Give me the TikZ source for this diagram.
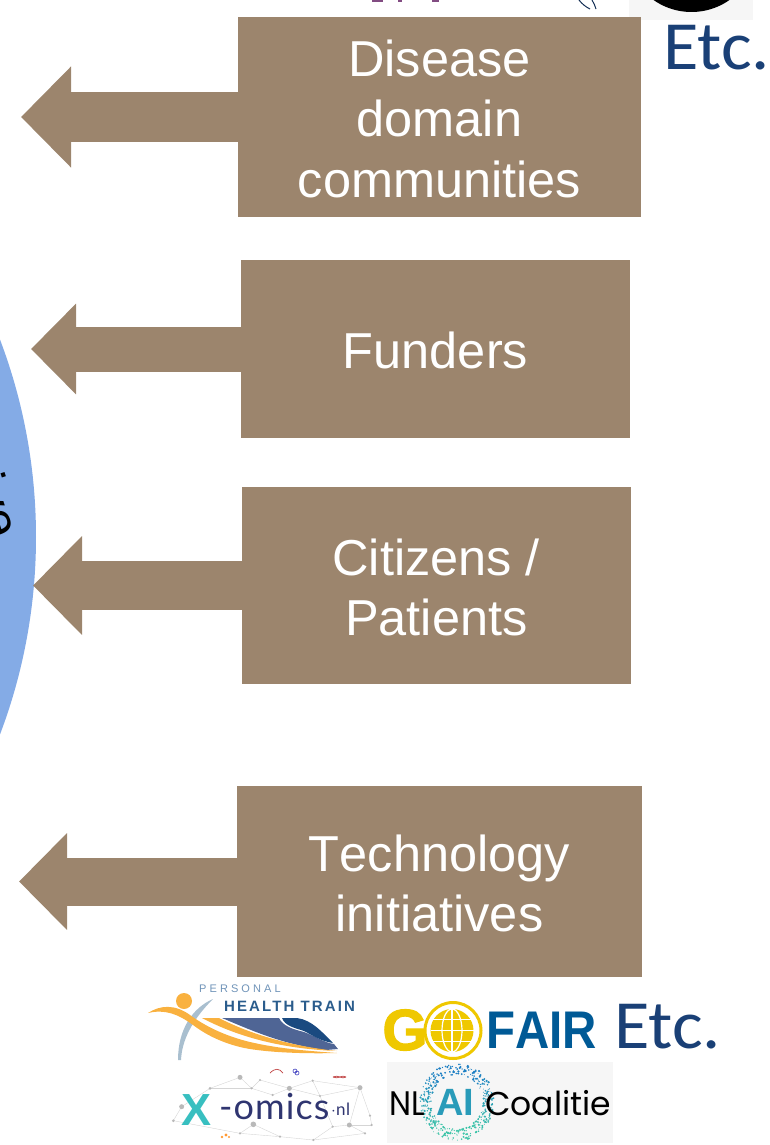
\documentclass[tikz,border=0pt]{standalone}
\usepackage{fontspec}
\setmainfont[Kerning=Off]{Liberation Sans}
\newfontfamily\etcfont{Carlito}
\newfontfamily\phtfont[LetterSpace=28]{Liberation Sans}
\newfontfamily\phtbold[LetterSpace=14]{Liberation Sans}
\newfontfamily\omicsfont[LetterSpace=3]{Lato}
\newfontfamily\aifont{Poppins}
\newfontfamily\gofont[FakeBold=2]{Liberation Sans Bold}
\usetikzlibrary{arrows.meta}
\definecolor{taupe}{HTML}{9C856D}
\definecolor{discblue}{HTML}{84ABE6}
\definecolor{etcblue}{HTML}{1A4076}
\definecolor{logobg}{HTML}{F6F6F6}
\definecolor{phtorange}{HTML}{F9B13F}
\definecolor{phtsteel}{HTML}{6F93B8}
\definecolor{phtnavy}{HTML}{2A5C8C}
\definecolor{phtbody}{HTML}{4F6595}
\definecolor{phtdark}{HTML}{1A4A80}
\definecolor{phtleg}{HTML}{A9BFCF}
\definecolor{goyellow}{HTML}{EFC800}
\definecolor{goblue}{HTML}{005A96}
\definecolor{xteal}{HTML}{38BFC0}
\definecolor{omicsnavy}{HTML}{2F3570}
\definecolor{netgray}{HTML}{B9B9B9}
\definecolor{aitop}{HTML}{1C7FC4}
\definecolor{aibot}{HTML}{3CC4A8}
\newcommand{\lowerline}{\rule{0pt}{40pt}}
\tikzset{
  stakebox/.style={fill=taupe,draw=none,inner sep=0pt,text=white,align=center,
    font=\fontsize{50.5}{60.5}\selectfont},
  stakearrow/.style={draw=taupe,line width=#1,shorten <=-1pt,-{Triangle[length=#1,width=2*#1-2pt,fill=taupe]}},
  etc/.style={text=etcblue,inner sep=0pt,xscale=1.05,font=\etcfont\fontsize{69}{69}\selectfont},
}
\begin{document}
\begin{tikzpicture}[x=1pt,y=-1pt]
\useasboundingbox (0,0) rectangle (769,1145);
% disc
\fill[discblue] (-521,537) circle [radius=557];
\node[rotate=-72,anchor=base east,inner sep=0pt,font=\fontsize{50}{60}\selectfont] (disc) at (-11,541) {tive};
% top logo fragments
\fill[logobg] (629,0) rectangle (753,20);
\begin{scope}
\clip (629,0) rectangle (753,20);
\fill[black] (691.5,-54) circle [radius=66];
\end{scope}
\draw[etcblue!70!black,line width=1pt] (579,0) .. controls (582,4) and (586,7) .. (590,9);
\draw[etcblue!70!black,line width=1pt] (592,0) .. controls (594,3) and (595,6) .. (596,9);
\fill[violet!60!black!70] (372,0) rectangle (383,2);
\fill[violet!60!black!70] (398,0) rectangle (402,2);
\fill[violet!60!black!70] (432,0) rectangle (439,2);
% boxes
\node[stakebox,minimum width=403pt,minimum height=200pt] (disease) at (439.5,117) {\lowerline Disease\\domain\\communities};
\node[stakebox,minimum width=389pt,minimum height=178pt] (funders) at (435.5,349) {\lowerline Funders};
\node[stakebox,minimum width=389.5pt,minimum height=197pt] (citizens) at (436.25,585.5) {\lowerline Citizens /\\Patients};
\node[stakebox,minimum width=405pt,minimum height=191pt] (tech) at (439.5,881.5) {\lowerline Technology\\initiatives};
% arrows
\coordinate (tipa) at (21,117);
\coordinate (tipb) at (31,349);
\coordinate (tipc) at (33,585.5);
\coordinate (tipd) at (19,881.5);
\draw[stakearrow=50pt] (disease.west) -- (tipa);
\draw[stakearrow=45pt] (funders.west) -- (tipb);
\draw[stakearrow=49pt] (citizens.west) -- (tipc);
\draw[stakearrow=48pt] (tech.west) -- (tipd);
% Etc
\node[etc,anchor=base west] (etca) at (663,70) {Etc.};
\node[etc,anchor=base west] (etcb) at (614,1048) {Etc.};
% Personal Health Train logo
\fill[phtleg] (213,999) .. controls (192,1008) and (178,1030) .. (178,1060)
  -- (181,1060) .. controls (182,1040) and (192,1020) .. (213,999) -- cycle;
\fill[phtorange] (184,1001) circle [radius=8];
\fill[phtbody] (222,1018) -- (279,1018) .. controls (283,1026) and (292,1029) .. (304,1032)
  .. controls (315,1036) and (325,1043) .. (334,1044) -- (338,1049)
  -- (326,1050) .. controls (285,1045) and (255,1032) .. (222,1018) -- cycle;
\fill[phtdark] (282,1018) -- (297,1018) .. controls (312,1020) and (322,1032) .. (333,1043)
  .. controls (320,1041) and (312,1035) .. (304,1031)
  .. controls (295,1028) and (285,1026) .. (282,1018) -- cycle;
\fill[phtorange] (202,1018) -- (219,1018) .. controls (250,1034) and (290,1046) .. (337,1051)
  .. controls (285,1049) and (240,1038) .. (202,1018) -- cycle;
\fill[phtorange] (148,1013) .. controls (160,1005) and (175,1004) .. (190,1015)
  .. controls (205,1026) and (225,1036) .. (250,1042)
  .. controls (280,1049) and (310,1051) .. (337,1053)
  .. controls (300,1054) and (260,1052) .. (240,1047)
  .. controls (220,1042) and (205,1034) .. (193,1025)
  .. controls (178,1014) and (165,1009) .. (148,1013) -- cycle;
\node[anchor=base west,inner sep=0pt,text=phtsteel,font=\phtfont\fontsize{11}{11}\selectfont] (phta) at (199,992) {PERSONAL};
\node[anchor=base west,inner sep=0pt,text=phtnavy,font=\phtbold\bfseries\fontsize{15}{15}\selectfont] (phtb) at (224,1011) {HEALTH TRAIN};
% GO FAIR logo
\draw[goyellow,line width=3pt] (453,1030.5) circle [radius=28];
\fill[goyellow] (452,1030.5) circle [radius=21.5];
\begin{scope}[white,line width=1.2pt]
\draw (452,1030.5) circle [x radius=10,y radius=21.5];
\draw (452,1009) -- (452,1052);
\draw (430.5,1030.5) -- (473.5,1030.5);
\draw (433,1019.5) -- (471,1019.5);
\draw (433,1041.5) -- (471,1041.5);
\end{scope}
\node[anchor=base,inner sep=0pt,text=goyellow,font=\gofont\fontsize{58}{58}\selectfont] (gog) at (405,1050) {G};
\node[anchor=base west,inner sep=0pt,text=goblue,xscale=0.895,font=\bfseries\fontsize{53}{53}\selectfont] (fair) at (486,1048) {FAIR};
% X-omics logo
\begin{scope}[netgray!60,line width=0.4pt]
\foreach \a/\b/\c/\d in {330/322/240/355,240/355/155/410,155/410/130/452,130/452/330/490,330/490/370/463,330/322/365/355,365/355/390/330,390/330/478/355,478/355/428/375,478/355/570/378,570/378/548/332,548/332/478/355,570/378/690/353,690/353/720/437,720/437/725/465,725/465/658/465,658/465/608/470,658/465/705/490,705/490/550/510,550/510/450/500,450/500/330/490,370/463/450/500,608/470/550/510,690/353/548/332,240/355/365/355,428/375/365/355,570/378/608/470,690/353/658/465}{
  \draw ({130+\a/3},{970+\b/3}) -- ({130+\c/3},{970+\d/3});
}
\end{scope}
\foreach \a/\b/\r in {330/322/2.5,240/355/1.5,155/410/2.5,130/452/1.5,370/463/2.8,478/355/2.5,390/330/1.2,365/355/1.2,428/375/1.2,570/378/1.2,548/332/1.2,690/353/2.5,720/437/1.2,725/465/1.2,658/465/2.5,608/470/1.2,705/490/1.2,550/510/1.2,450/500/1.2,330/490/1.2}{
  \fill[netgray] ({130+\a/3},{970+\b/3}) circle [radius=\r];
}
\draw[red!50!gray,line width=0.7pt] (270,1073) .. controls (275,1068) and (279,1068) .. (283,1073);
\draw[blue!50!gray,line width=0.6pt] (295,1071) circle [radius=2] (297,1073) circle [radius=2];
\draw[red!50!gray,line width=0.7pt] (333,1077) .. controls (338,1074) and (342,1080) .. (346,1077);
\draw[red!50!gray,line width=0.7pt] (333,1077) .. controls (338,1080) and (342,1074) .. (346,1077);
\fill[orange!80] (222,1137) circle [radius=1.4] (226,1135) circle [radius=1.6] (229,1137) circle [radius=1.2];
\node[anchor=base west,inner sep=0pt,text=xteal,font=\bfseries\fontsize{45}{45}\selectfont] (xom) at (181,1125) {X};
\node[anchor=base west,inner sep=0pt,text=omicsnavy,font=\omicsfont\fontsize{36}{36}\selectfont] (omics) at (219,1119) {-omics};
\node[anchor=base west,inner sep=0pt,text=omicsnavy,font=\omicsfont\fontsize{17}{17}\selectfont] (nl) at (331,1115) {$\cdot$nl};
% NL AI Coalitie logo
\fill[logobg] (387,1062) rectangle (613,1143);
\pgfmathsetseed{42}
\foreach \i in {1,...,420}{
  \pgfmathsetmacro{\ang}{360*rnd}
  \pgfmathsetmacro{\rad}{26+11*rnd}
  \pgfmathsetmacro{\sz}{0.4+0.8*rnd}
  \pgfmathsetmacro{\mixp}{max(0,min(100,50+60*sin(\ang)))}
  \fill[aibot!\mixp!aitop] ({457+\rad*cos(\ang)},{1102+\rad*sin(\ang)*1.05}) circle [radius=\sz];
}
\node[anchor=base west,inner sep=0pt,xscale=0.92,font=\aifont\fontsize{34}{34}\selectfont] (nlt) at (389,1115) {NL};
\node[anchor=base,inner sep=0pt,text=aitop!60!aibot,font=\bfseries\fontsize{38}{38}\selectfont] (ait) at (455,1115) {AI};
\node[anchor=base west,inner sep=0pt,font=\aifont\fontsize{33}{34}\selectfont] (coal) at (485,1115) {Coalitie};
\end{tikzpicture}
\end{document}
